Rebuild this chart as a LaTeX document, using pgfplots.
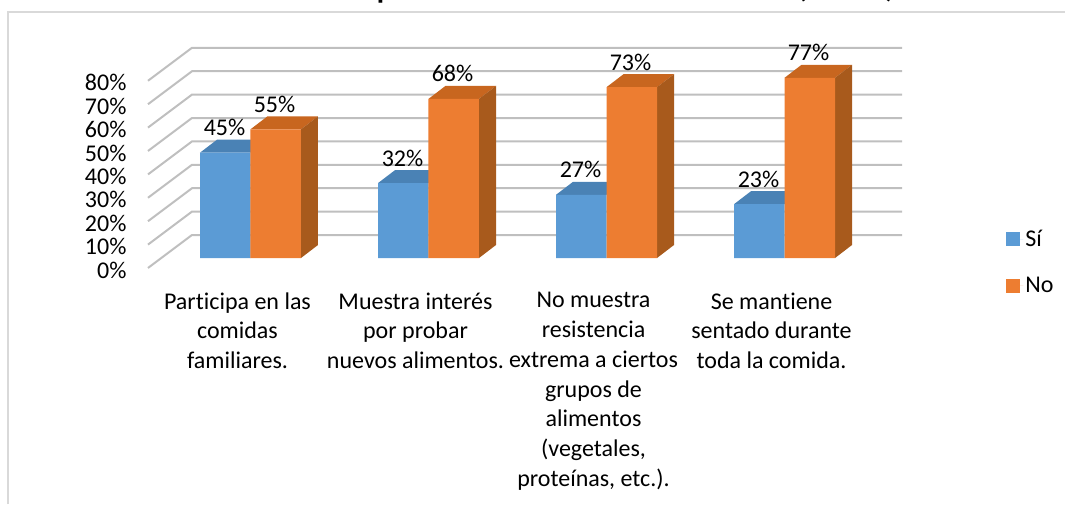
\documentclass[border=0pt]{standalone}
\usepackage{pgfplots}
\pgfplotsset{compat=1.18}
\usepackage{fontspec}
\setmainfont[Ligatures=NoCommon]{Carlito}

\definecolor{azul}{HTML}{5B9BD5}
\definecolor{azultop}{HTML}{4A82B5}
\definecolor{naranja}{HTML}{ED7D31}
\definecolor{naranjatop}{HTML}{C8661F}
\definecolor{naranjaside}{HTML}{A85A1C}
\definecolor{rejilla}{HTML}{BFBFBF}
\definecolor{marco}{HTML}{D9D9D9}

\newcommand{\chartfont}{\fontsize{24}{29.7}\selectfont}

\pgfplotsset{
  rejilla/.style={forget plot, draw=rejilla, line width=2pt},
  cara/.style={forget plot, draw=none, fill=#1},
}

\pgfplotstableread{
x si no
0 45 55
1 32 68
2 27 73
3 23 77
}\datos

\begin{document}
\begin{tikzpicture}
\path[use as bounding box] (0,0) rectangle (1065pt,504pt);
\draw[marco, line width=2pt] (8pt,0) -- (8pt,491.5pt) -- (1065pt,491.5pt);
% title line is cut off by the page, only the descenders are left
\node[anchor=base, font=\fontsize{30}{30}\selectfont\bfseries, inner sep=0pt] at (385pt,505pt) {p};
\node[anchor=base, font=\fontsize{30}{30}\selectfont\bfseries, inner sep=0pt] at (802pt,506pt) {(};
\node[anchor=base, font=\fontsize{30}{30}\selectfont\bfseries, inner sep=0pt] at (890pt,506pt) {)};
\begin{axis}[
  at={(148pt,246pt)},
  anchor=south west,
  scale only axis,
  width=754pt,
  height=187.2pt,
  xmin=-0.5758, xmax=3.660,
  ymin=0, ymax=80,
  clip=false,
  axis line style={draw=none},
  tick style={draw=none},
  major tick length=0pt,
  xtick={0,1,2,3},
  xticklabels={
    {Participa en las\\comidas\\familiares.},
    {Muestra interés\\por probar\\nuevos alimentos.},
    {No muestra\\resistencia\\extrema a ciertos\\grupos de\\alimentos\\(vegetales,\\proteínas, etc.).},
    {Se mantiene\\sentado durante\\toda la comida.}},
  x tick label style={font=\chartfont, align=center, anchor=north, xshift=-13pt, yshift=-31pt},
  ytick={0,10,...,80},
  yticklabel={\pgfmathprintnumber{\tick}\%},
  /pgf/number format/assume math mode=true,
  y tick label style={font=\chartfont, anchor=east, xshift=-18pt, yshift=-12pt},
  legend style={draw=none, fill=none, at={(1.138,0.16)}, anchor=north west,
    inner sep=0pt, font=\chartfont, row sep=25pt,
    /tikz/every even column/.append style={column sep=0pt}},
  legend cell align=left,
  legend image code/.code={\fill[#1] (0pt,-7pt) rectangle (14pt,7pt); \path (0pt,0pt) -- (17pt,0pt);},
  nodes near coords style={font=\chartfont, anchor=center, yshift=25pt},
]
% back wall lines with their diagonal on the left
\addplot[rejilla] coordinates {(-0.5758,-4.27)(-0.3287,9.83)(3.660,9.83)};
\addplot[rejilla] coordinates {(-0.5758,5.73)(-0.3287,19.83)(3.660,19.83)};
\addplot[rejilla] coordinates {(-0.5758,15.73)(-0.3287,29.83)(3.660,29.83)};
\addplot[rejilla] coordinates {(-0.5758,25.73)(-0.3287,39.83)(3.660,39.83)};
\addplot[rejilla] coordinates {(-0.5758,35.73)(-0.3287,49.83)(3.660,49.83)};
\addplot[rejilla] coordinates {(-0.5758,45.73)(-0.3287,59.83)(3.660,59.83)};
\addplot[rejilla] coordinates {(-0.5758,55.73)(-0.3287,69.83)(3.660,69.83)};
\addplot[rejilla] coordinates {(-0.5758,65.73)(-0.3287,79.83)(3.660,79.83)};
\addplot[rejilla] coordinates {(-0.5758,75.73)(-0.3287,89.83)(3.660,89.83)};

% blue tops
\addplot[cara=azultop] coordinates {(-.2837,45)(-.1882,50.56)(.0955,50.56)(0,45)} -- cycle;
\addplot[cara=azultop] coordinates {(.7163,32)(.8118,37.56)(1.0955,37.56)(1,32)} -- cycle;
\addplot[cara=azultop] coordinates {(1.7163,27)(1.8118,32.56)(2.0955,32.56)(2,27)} -- cycle;
\addplot[cara=azultop] coordinates {(2.7163,23)(2.8118,28.56)(3.0955,28.56)(3,23)} -- cycle;

% front of the Si bars
\addplot[ybar, bar width=0.2837, bar shift=-0.1418, draw=none, fill=azul,
  nodes near coords={\pgfmathprintnumber{\pgfplotspointmeta}\%},
  every node near coord/.append style={xshift=-26pt}]
  table[x=x, y=si] {\datos};
\addlegendentry{Sí}

% orange tops and sides
\addplot[cara=naranjatop] coordinates {(0,55)(.0955,60.56)(.3792,60.56)(.2837,55)} -- cycle;
\addplot[cara=naranjaside] coordinates {(.2837,0)(.3792,5.56)(.3792,60.56)(.2837,55)} -- cycle;
\addplot[cara=naranjatop] coordinates {(1,68)(1.0955,73.56)(1.3792,73.56)(1.2837,68)} -- cycle;
\addplot[cara=naranjaside] coordinates {(1.2837,0)(1.3792,5.56)(1.3792,73.56)(1.2837,68)} -- cycle;
\addplot[cara=naranjatop] coordinates {(2,73)(2.0955,78.56)(2.3792,78.56)(2.2837,73)} -- cycle;
\addplot[cara=naranjaside] coordinates {(2.2837,0)(2.3792,5.56)(2.3792,78.56)(2.2837,73)} -- cycle;
\addplot[cara=naranjatop] coordinates {(3,77)(3.0955,82.56)(3.3792,82.56)(3.2837,77)} -- cycle;
\addplot[cara=naranjaside] coordinates {(3.2837,0)(3.3792,5.56)(3.3792,82.56)(3.2837,77)} -- cycle;

% front of the No bars
\addplot[ybar, bar width=0.2837, bar shift=0.1418, draw=none, fill=naranja,
  nodes near coords={\pgfmathprintnumber{\pgfplotspointmeta}\%},
  every node near coord/.append style={xshift=24pt}]
  table[x=x, y=no] {\datos};
\addlegendentry{No}
\end{axis}
\end{tikzpicture}
\end{document}
